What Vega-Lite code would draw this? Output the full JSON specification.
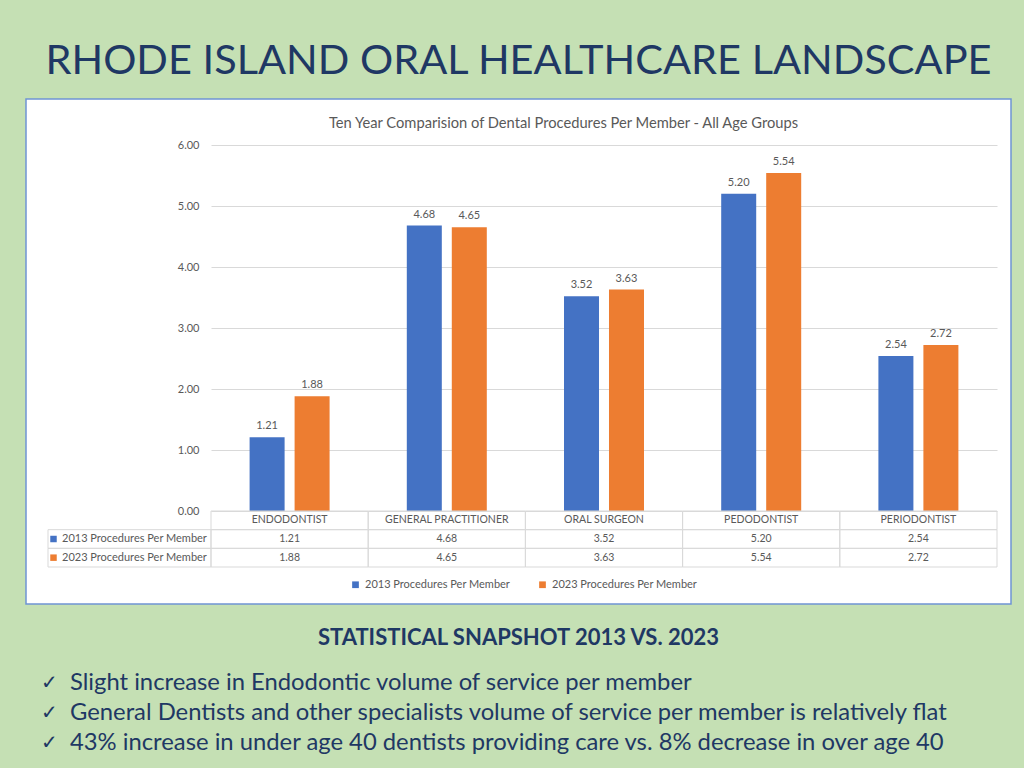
{
  "$schema": "https://vega.github.io/schema/vega-lite/v6.json",
  "background": "#c5e0b4",
  "padding": {"left": 25, "right": 14, "top": 40, "bottom": 0},
  "config": {"view": {"stroke": null}, "font": "Lato"},
  "title": {"text": "RHODE ISLAND ORAL HEALTHCARE LANDSCAPE", "fontSize": 41.5, "font": "Lato", "fontWeight": "normal", "color": "#1f3864", "anchor": "middle", "offset": 16, "frame": "group"},
  "spacing": 62,
  "bounds": "flush",
  "datasets": {
    "bars": [
      {"category": "ENDODONTIST", "series": "2013 Procedures Per Member", "value": 1.21},
      {"category": "ENDODONTIST", "series": "2023 Procedures Per Member", "value": 1.88},
      {"category": "GENERAL PRACTITIONER", "series": "2013 Procedures Per Member", "value": 4.68},
      {"category": "GENERAL PRACTITIONER", "series": "2023 Procedures Per Member", "value": 4.65},
      {"category": "ORAL SURGEON", "series": "2013 Procedures Per Member", "value": 3.52},
      {"category": "ORAL SURGEON", "series": "2023 Procedures Per Member", "value": 3.63},
      {"category": "PEDODONTIST", "series": "2013 Procedures Per Member", "value": 5.20},
      {"category": "PEDODONTIST", "series": "2023 Procedures Per Member", "value": 5.54},
      {"category": "PERIODONTIST", "series": "2013 Procedures Per Member", "value": 2.54},
      {"category": "PERIODONTIST", "series": "2023 Procedures Per Member", "value": 2.72}
    ],
    "categories": [
      {"category": "ENDODONTIST"},
      {"category": "GENERAL PRACTITIONER"},
      {"category": "ORAL SURGEON"},
      {"category": "PEDODONTIST"},
      {"category": "PERIODONTIST"}
    ],
    "series": [
      {"series": "2013 Procedures Per Member"},
      {"series": "2023 Procedures Per Member"}
    ],
    "bullets": [
      {"line": 1, "text": "Slight increase in Endodontic volume of service per member"},
      {"line": 2, "text": "General Dentists and other specialists volume of service per member is relatively flat"},
      {"line": 3, "text": "43% increase in under age 40 dentists providing care vs. 8% decrease in over age 40"}
    ]
  },
  "vconcat": [
    {
      "width": 985,
      "height": 505,
      "view": {"fill": "white", "stroke": "#6f94d4", "strokeWidth": 1.5},
      "title": {"text": "Ten Year Comparision of Dental Procedures Per Member - All Age Groups", "fontSize": 14.7, "fontWeight": "normal", "color": "#595959", "offset": -32, "dx": 45, "frame": "group", "anchor": "middle"},
      "resolve": {"scale": {"x": "independent", "y": "independent"}},
      "layer": [
        {
          "data": {"name": "bars"},
          "mark": {"type": "bar"},
          "encoding": {
            "x": {"field": "category", "type": "nominal", "sort": null, "scale": {"domain": ["ENDODONTIST", "GENERAL PRACTITIONER", "ORAL SURGEON", "PEDODONTIST", "PERIODONTIST"], "range": [185, 971], "paddingInner": 0, "paddingOuter": 0}, "axis": null},
            "xOffset": {"field": "series", "type": "nominal", "scale": {"domain": ["2013 Procedures Per Member", "2023 Procedures Per Member"], "paddingInner": 0.222, "paddingOuter": 0.858}},
            "y": {"field": "value", "type": "quantitative", "scale": {"domain": [0, 6], "range": [412, 46], "nice": false}, "axis": {"values": [0, 1, 2, 3, 4, 5, 6], "format": ".2f", "orient": "left", "offset": -178, "ticks": false, "domain": false, "labelPadding": 5, "labelFontSize": 11, "labelColor": "#595959", "labelFont": "Lato", "gridColor": "#d9d9d9", "grid": true, "title": null}},
            "color": {"field": "series", "type": "nominal", "scale": {"domain": ["2013 Procedures Per Member", "2023 Procedures Per Member"], "range": ["#4472c4", "#ed7d31"]}, "legend": {"orient": "none", "legendX": 324, "legendY": 480, "direction": "horizontal", "title": null, "symbolType": "square", "symbolSize": 45, "labelFontSize": 11, "labelColor": "#595959", "labelFont": "Lato", "columnPadding": 26, "symbolStrokeWidth": 0, "labelOffset": 4}}
          }
        },
        {
          "data": {"name": "bars"},
          "mark": {"type": "text", "baseline": "bottom", "dy": -6, "fontSize": 11, "color": "#595959"},
          "encoding": {
            "x": {"field": "category", "type": "nominal", "sort": null, "scale": {"domain": ["ENDODONTIST", "GENERAL PRACTITIONER", "ORAL SURGEON", "PEDODONTIST", "PERIODONTIST"], "range": [185, 971], "paddingInner": 0, "paddingOuter": 0}, "axis": null},
            "xOffset": {"field": "series", "type": "nominal", "scale": {"domain": ["2013 Procedures Per Member", "2023 Procedures Per Member"], "paddingInner": 0.222, "paddingOuter": 0.858}},
            "y": {"field": "value", "type": "quantitative", "scale": {"domain": [0, 6], "range": [412, 46], "nice": false}, "axis": null},
            "text": {"field": "value", "type": "quantitative", "format": ".2f"}
          }
        },
        {
          "data": {"name": "bars"},
          "mark": {"type": "rect", "fillOpacity": 0, "stroke": "#d9d9d9", "strokeWidth": 1},
          "encoding": {
            "x": {"field": "category", "type": "nominal", "sort": null, "scale": {"domain": ["ENDODONTIST", "GENERAL PRACTITIONER", "ORAL SURGEON", "PEDODONTIST", "PERIODONTIST"], "range": [185, 971], "paddingInner": 0, "paddingOuter": 0}, "axis": null},
            "y": {"field": "series", "type": "nominal", "scale": {"domain": ["header", "2013 Procedures Per Member", "2023 Procedures Per Member"], "range": [412, 468], "paddingInner": 0, "paddingOuter": 0}, "axis": null}
          }
        },
        {
          "data": {"name": "bars"},
          "mark": {"type": "text", "fontSize": 10.5, "color": "#595959"},
          "encoding": {
            "x": {"field": "category", "type": "nominal", "sort": null, "scale": {"domain": ["ENDODONTIST", "GENERAL PRACTITIONER", "ORAL SURGEON", "PEDODONTIST", "PERIODONTIST"], "range": [185, 971], "paddingInner": 0, "paddingOuter": 0}, "axis": null},
            "y": {"field": "series", "type": "nominal", "scale": {"domain": ["header", "2013 Procedures Per Member", "2023 Procedures Per Member"], "range": [412, 468], "paddingInner": 0, "paddingOuter": 0}, "axis": null},
            "text": {"field": "value", "type": "quantitative", "format": ".2f"}
          }
        },
        {
          "data": {"name": "categories"},
          "mark": {"type": "rect", "fillOpacity": 0, "stroke": "#d9d9d9", "strokeWidth": 1},
          "encoding": {
            "x": {"field": "category", "type": "nominal", "sort": null, "scale": {"domain": ["ENDODONTIST", "GENERAL PRACTITIONER", "ORAL SURGEON", "PEDODONTIST", "PERIODONTIST"], "range": [185, 971], "paddingInner": 0, "paddingOuter": 0}, "axis": null},
            "y": {"datum": "header", "type": "nominal", "scale": {"domain": ["header", "2013 Procedures Per Member", "2023 Procedures Per Member"], "range": [412, 468], "paddingInner": 0, "paddingOuter": 0}, "axis": null}
          }
        },
        {
          "data": {"name": "categories"},
          "mark": {"type": "text", "fontSize": 10.5, "color": "#595959"},
          "encoding": {
            "x": {"field": "category", "type": "nominal", "sort": null, "scale": {"domain": ["ENDODONTIST", "GENERAL PRACTITIONER", "ORAL SURGEON", "PEDODONTIST", "PERIODONTIST"], "range": [185, 971], "paddingInner": 0, "paddingOuter": 0}, "axis": null},
            "y": {"datum": "header", "type": "nominal", "scale": {"domain": ["header", "2013 Procedures Per Member", "2023 Procedures Per Member"], "range": [412, 468], "paddingInner": 0, "paddingOuter": 0}, "axis": null},
            "text": {"field": "category", "type": "nominal"}
          }
        },
        {
          "data": {"name": "series"},
          "mark": {"type": "rect", "fillOpacity": 0, "stroke": "#d9d9d9", "strokeWidth": 1},
          "encoding": {
            "x": {"datum": "label", "type": "nominal", "scale": {"domain": ["label"], "range": [22, 185], "paddingInner": 0, "paddingOuter": 0}, "axis": null},
            "y": {"field": "series", "type": "nominal", "scale": {"domain": ["header", "2013 Procedures Per Member", "2023 Procedures Per Member"], "range": [412, 468], "paddingInner": 0, "paddingOuter": 0}, "axis": null}
          }
        },
        {
          "data": {"name": "series"},
          "mark": {"type": "point", "shape": "square", "filled": true, "size": 42, "opacity": 1},
          "encoding": {
            "x": {"datum": "square", "type": "nominal", "scale": {"type": "point", "domain": ["square", "text"], "range": [27.5, 36], "padding": 0}, "axis": null},
            "y": {"field": "series", "type": "nominal", "scale": {"domain": ["header", "2013 Procedures Per Member", "2023 Procedures Per Member"], "range": [412, 468], "paddingInner": 0, "paddingOuter": 0}, "axis": null},
            "fill": {"field": "series", "type": "nominal", "scale": {"domain": ["2013 Procedures Per Member", "2023 Procedures Per Member"], "range": ["#4472c4", "#ed7d31"]}, "legend": null}
          }
        },
        {
          "data": {"name": "series"},
          "mark": {"type": "text", "align": "left", "fontSize": 11, "color": "#595959"},
          "encoding": {
            "x": {"datum": "text", "type": "nominal", "scale": {"type": "point", "domain": ["square", "text"], "range": [27.5, 36], "padding": 0}, "axis": null},
            "y": {"field": "series", "type": "nominal", "scale": {"domain": ["header", "2013 Procedures Per Member", "2023 Procedures Per Member"], "range": [412, 468], "paddingInner": 0, "paddingOuter": 0}, "axis": null},
            "text": {"field": "series", "type": "nominal"}
          }
        }
      ]
    },
    {
      "width": 985,
      "height": 104,
      "title": {"text": "STATISTICAL SNAPSHOT 2013 VS. 2023", "fontSize": 22, "fontWeight": "bold", "color": "#1f3864", "offset": 16, "anchor": "middle", "frame": "group"},
      "data": {"name": "bullets"},
      "layer": [
        {
          "mark": {"type": "text", "align": "left", "baseline": "middle", "fontSize": 20, "font": "DejaVu Sans", "color": "#1f3864"},
          "encoding": {
            "x": {"datum": "check", "type": "nominal", "scale": {"type": "point", "domain": ["check", "text"], "range": [15, 44], "padding": 0}, "axis": null},
            "y": {"field": "line", "type": "ordinal", "scale": {"type": "point", "range": [17, 77], "padding": 0}, "axis": null},
            "text": {"value": "✓"}
          }
        },
        {
          "mark": {"type": "text", "align": "left", "baseline": "middle", "fontSize": 23.8, "color": "#1f3864"},
          "encoding": {
            "x": {"datum": "text", "type": "nominal", "scale": {"type": "point", "domain": ["check", "text"], "range": [15, 44], "padding": 0}, "axis": null},
            "y": {"field": "line", "type": "ordinal", "scale": {"type": "point", "range": [17, 77], "padding": 0}, "axis": null},
            "text": {"field": "text", "type": "nominal"}
          }
        }
      ]
    }
  ]
}
